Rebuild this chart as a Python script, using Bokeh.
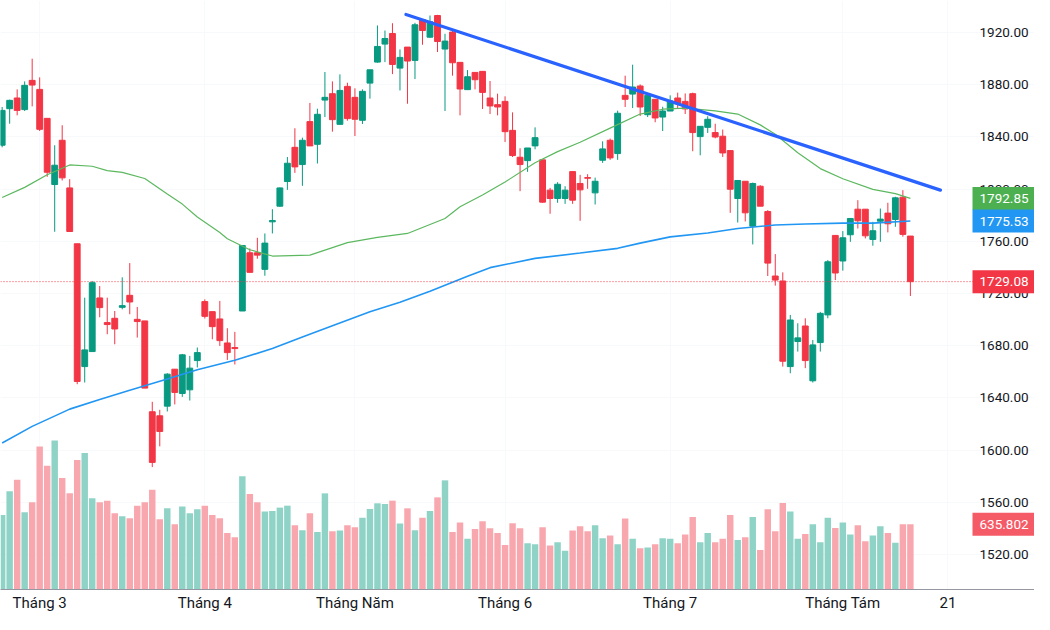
from bokeh.plotting import figure
from bokeh.models import (Range1d, FixedTicker, ColumnDataSource, Span,
                          PrintfTickFormatter)
from bokeh.core.properties import value
from bokeh.embed import file_html
from bokeh.resources import INLINE

# ---------------- data ----------------
opens = [
    1833.6, 1861.6, 1869.8, 1860.9, 1883.3, 1876.4, 1854.2, 1803.5, 1837.4, 1800.9,
    1758.1, 1664.0, 1675.5, 1716.6, 1697.7, 1701.0, 1709.4, 1718.6, 1700.2, 1699.0,
    1629.4, 1626.3, 1633.7, 1662.0, 1643.4, 1646.2, 1668.6, 1713.8, 1706.1, 1700.5,
    1682.1, 1678.6, 1706.6, 1751.2, 1751.2, 1738.5, 1774.9, 1786.9, 1805.8, 1832.0,
    1818.8, 1851.7, 1834.3, 1868.2, 1873.1, 1849.6, 1878.7, 1870.3, 1852.7, 1881.2,
    1897.3, 1911.1, 1919.2, 1892.7, 1908.8, 1898.6, 1929.7, 1916.4, 1933.0, 1907.3,
    1920.3, 1897.1, 1876.2, 1889.4, 1890.2, 1869.8, 1864.7, 1867.2, 1845.0, 1824.4,
    1821.8, 1833.1, 1822.4, 1799.2, 1792.8, 1792.8, 1813.4, 1804.3, 1808.8, 1797.1,
    1822.1, 1837.4, 1827.2, 1871.8, 1872.8, 1879.0, 1857.0, 1868.8, 1855.2, 1859.8,
    1869.8, 1867.2, 1873.1, 1840.2, 1847.3, 1843.3, 1840.5, 1829.5, 1792.8, 1806.0,
    1771.6, 1802.2, 1782.8, 1733.4, 1729.6, 1664.0, 1683.2, 1695.1, 1653.1, 1682.4,
    1703.6, 1764.5, 1744.9, 1765.0, 1784.6, 1784.6, 1761.4, 1775.4, 1781.6, 1776.7,
    1793.8, 1764.0]
highs = [
    1862.9, 1868.5, 1876.4, 1882.5, 1899.9, 1885.6, 1854.2, 1833.6, 1848.9, 1807.6,
    1758.1, 1716.8, 1729.6, 1725.7, 1716.8, 1706.6, 1732.4, 1743.3, 1709.7, 1699.0,
    1637.0, 1630.9, 1658.9, 1662.0, 1673.7, 1672.2, 1678.6, 1715.5, 1706.1, 1714.3,
    1693.4, 1690.6, 1756.8, 1754.5, 1762.7, 1766.0, 1784.6, 1801.2, 1824.6, 1846.6,
    1839.4, 1866.0, 1861.6, 1889.7, 1882.5, 1887.9, 1881.5, 1877.2, 1876.4, 1891.4,
    1925.4, 1921.5, 1927.1, 1907.0, 1908.8, 1927.4, 1929.7, 1933.0, 1933.5, 1919.0,
    1922.3, 1897.1, 1891.2, 1889.4, 1890.2, 1882.8, 1873.1, 1871.1, 1858.8, 1831.3,
    1831.5, 1847.3, 1822.4, 1800.9, 1805.3, 1802.2, 1813.4, 1810.9, 1811.4, 1808.8,
    1836.6, 1838.7, 1860.1, 1886.9, 1895.3, 1880.2, 1871.8, 1868.8, 1863.1, 1871.8,
    1873.9, 1873.3, 1873.9, 1848.1, 1855.8, 1850.1, 1845.6, 1829.5, 1806.6, 1806.0,
    1805.0, 1803.0, 1783.9, 1750.2, 1736.2, 1703.6, 1697.2, 1701.0, 1684.4, 1705.9,
    1745.6, 1764.5, 1767.8, 1777.5, 1791.5, 1784.6, 1774.9, 1785.1, 1789.5, 1794.1,
    1799.2, 1764.0]
lows = [
    1832.0, 1850.1, 1856.5, 1859.8, 1863.4, 1844.5, 1809.4, 1767.3, 1806.6, 1767.5,
    1650.5, 1651.8, 1675.5, 1701.8, 1688.8, 1681.1, 1707.9, 1704.1, 1686.2, 1647.5,
    1587.0, 1602.9, 1629.6, 1635.0, 1640.8, 1638.0, 1663.3, 1700.8, 1684.9, 1679.8,
    1669.1, 1665.6, 1706.6, 1736.2, 1746.6, 1733.6, 1766.0, 1786.5, 1799.4, 1812.4,
    1802.5, 1833.1, 1819.6, 1855.2, 1844.0, 1849.6, 1852.4, 1840.7, 1849.9, 1869.3,
    1896.8, 1897.3, 1888.1, 1875.6, 1865.4, 1884.3, 1910.6, 1915.9, 1905.0, 1859.8,
    1886.9, 1856.5, 1876.2, 1876.4, 1861.4, 1857.5, 1856.5, 1836.1, 1824.6, 1798.4,
    1813.2, 1830.5, 1789.5, 1781.1, 1789.5, 1788.7, 1788.7, 1775.7, 1800.2, 1788.2,
    1820.1, 1822.4, 1822.4, 1862.9, 1862.1, 1856.0, 1855.2, 1851.2, 1844.5, 1859.8,
    1861.6, 1857.5, 1829.0, 1825.9, 1843.0, 1838.9, 1824.6, 1781.8, 1774.4, 1775.2,
    1757.6, 1786.9, 1733.4, 1726.0, 1664.0, 1658.9, 1675.5, 1662.8, 1651.8, 1675.5,
    1701.0, 1730.3, 1737.5, 1759.6, 1769.8, 1762.2, 1756.6, 1759.6, 1766.8, 1771.1,
    1763.5, 1718.1]
closes = [
    1860.3, 1868.0, 1860.3, 1879.5, 1879.7, 1845.8, 1812.9, 1818.3, 1808.6, 1767.5,
    1652.6, 1676.8, 1728.3, 1709.2, 1696.2, 1692.8, 1710.7, 1713.5, 1698.5, 1647.5,
    1590.6, 1614.3, 1658.2, 1644.2, 1673.0, 1662.8, 1674.7, 1702.5, 1694.6, 1683.9,
    1674.7, 1677.8, 1756.8, 1736.2, 1749.4, 1758.6, 1775.9, 1800.9, 1819.8, 1817.0,
    1837.4, 1833.1, 1857.3, 1870.3, 1853.2, 1875.6, 1854.0, 1853.5, 1874.9, 1891.4,
    1909.3, 1915.4, 1895.5, 1900.9, 1898.1, 1925.9, 1921.5, 1928.2, 1913.1, 1913.4,
    1896.8, 1876.7, 1886.1, 1883.8, 1874.1, 1863.7, 1862.9, 1844.0, 1825.7, 1818.8,
    1831.5, 1839.4, 1790.0, 1792.8, 1803.7, 1799.2, 1791.5, 1799.4, 1808.3, 1806.0,
    1830.8, 1823.9, 1858.1, 1868.8, 1878.2, 1862.9, 1871.8, 1854.5, 1859.8, 1867.5,
    1865.4, 1861.4, 1843.3, 1848.1, 1853.5, 1839.9, 1827.7, 1799.9, 1806.6, 1781.8,
    1804.3, 1786.9, 1743.3, 1730.3, 1668.1, 1699.7, 1686.0, 1668.6, 1680.6, 1704.8,
    1744.3, 1735.7, 1762.7, 1777.5, 1775.7, 1764.2, 1768.1, 1777.0, 1773.4, 1793.3,
    1765.3, 1729.08]
volumes = [
    727, 958, 1072, 753, 851, 1396, 1208, 1455, 1088, 938,
    1263, 1331, 890, 851, 867, 744, 714, 695, 818, 851,
    974, 685, 792, 636, 809, 744, 783, 818, 727, 695,
    552, 510, 1104, 932, 851, 760, 766, 799, 818, 627,
    578, 744, 562, 938, 568, 575, 627, 607, 701, 786,
    841, 834, 867, 643, 792, 578, 701, 766, 899, 1065,
    562, 653, 494, 591, 666, 597, 552, 435, 646, 597,
    451, 442, 607, 429, 461, 377, 575, 617, 568, 627,
    500, 526, 442, 692, 494, 403, 409, 442, 500, 494,
    451, 536, 708, 461, 552, 461, 494, 727, 484, 510,
    708, 386, 783, 568, 844, 760, 494, 542, 636, 461,
    701, 601, 653, 536, 627, 471, 526, 617, 552, 455,
    636, 635.802]

# moving averages (green = short MA, blue = long MA), read at these bar indices
ma_short_idx = [0, 3, 6, 9, 12, 14, 16, 19, 22, 24, 26, 29, 30, 33, 36, 41, 46, 50, 54, 59,
                61, 64, 67, 71, 74, 77, 81, 85, 88, 91, 95, 98, 101, 103, 106, 109, 112, 116, 119, 121]
ma_short_val = [1793.6, 1801.3, 1811.0, 1818.5, 1817.5, 1814.2, 1812.8, 1808.1, 1796.3, 1788.5,
                1778.6, 1766.7, 1762.0, 1753.5, 1748.7, 1749.4, 1759.0, 1763.0, 1766.0, 1777.5,
                1786.5, 1795.5, 1805.4, 1820.2, 1828.7, 1835.9, 1846.7, 1857.5, 1861.2, 1862.0,
                1860.0, 1857.5, 1849.2, 1842.0, 1827.8, 1815.7, 1807.9, 1799.8, 1796.5, 1792.85]
ma_long_idx = [0, 4, 9, 13, 17, 22, 26, 31, 36, 40, 44, 49, 53, 57, 62, 65, 71, 77, 82, 85,
               89, 94, 98, 103, 107, 112, 116, 121]
ma_long_val = [1605.4, 1618.2, 1631.4, 1638.7, 1645.8, 1654.5, 1661.5, 1668.8, 1677.8, 1686.7,
               1695.3, 1706.0, 1713.3, 1721.8, 1733.2, 1739.8, 1746.9, 1751.0, 1754.6, 1758.6,
               1763.4, 1766.3, 1769.8, 1772.5, 1773.2, 1773.9, 1773.9, 1775.53]

# hand-drawn resistance trend line
trend_idx = [53.8, 125.0]
trend_val = [1933.8, 1799.2]

month_ticks = [5, 27, 47, 67, 89, 112, 126]
month_labels = ["Tháng 3", "Tháng 4", "Tháng Năm", "Tháng 6", "Tháng 7", "Tháng Tám", "21"]
price_ticks = [1520, 1560, 1600, 1640, 1680, 1720, 1760, 1800, 1840, 1880, 1920]

# ---------------- styling ----------------
UP = "#089981"
DOWN = "#F23645"
UP_VOL = "#8fd3c7"
DOWN_VOL = "#f9a7ae"
FONT = "Roboto"
TXT = "#131722"
W, H = 1034, 614
PX = 7.506                            # pixels per bar
X_START = -0.22
X_END = X_START + W / PX              # whole pane incl. price-scale strip
SCALE_PX = 972                        # left edge of the price-scale strip (px)
SCALE_AT = SCALE_PX / PX + X_START
TAG_W, TAG_H = 62, 23
TAG_MID = (SCALE_PX + TAG_W / 2) / PX + X_START

n = len(opens)
idx = list(range(n))
is_up = [c >= o for o, c in zip(opens, closes)]
src = ColumnDataSource(dict(
    x=idx, open=opens, high=highs, low=lows, close=closes, vol=volumes,
    body_top=[max(o, c) for o, c in zip(opens, closes)],
    body_bot=[min(o, c) for o, c in zip(opens, closes)],
    color=[UP if u else DOWN for u in is_up],
    vcolor=[UP_VOL if u else DOWN_VOL for u in is_up],
))

p = figure(width=W, height=H,
           x_range=Range1d(X_START, X_END), y_range=Range1d(1493.2, 1944.5),
           output_backend="svg", toolbar_location=None, y_axis_location="right",
           min_border_left=0, min_border_top=0, min_border_right=0, min_border_bottom=24,
           background_fill_color="white", border_fill_color="white", outline_line_color=None)
p.extra_y_ranges = {"vol": Range1d(0, 5747)}

# volume
p.vbar(x="x", top="vol", bottom=0, width=0.86, fill_color="vcolor", line_color=None,
       y_range_name="vol", source=src)
# candles
p.segment(x0="x", y0="low", x1="x", y1="high", line_color="color", line_width=1, source=src)
p.vbar(x="x", top="body_top", bottom="body_bot", width=0.78, fill_color="color",
       line_color="color", line_width=1, source=src)

# moving averages and trend line
p.line(ma_short_idx, ma_short_val, line_color="#5cb85f", line_width=1.2)
p.line(ma_long_idx, ma_long_val, line_color="#2196F3", line_width=1.6)
p.line(trend_idx, trend_val, line_color="#2962FF", line_width=3.2, line_cap="round")

# last price line
p.add_layout(Span(location=closes[-1], dimension="width", line_color=DOWN,
                  line_dash="1 2", line_width=1))

# time axis
xa = p.xaxis[0]
xa.ticker = FixedTicker(ticks=month_ticks)
xa.major_label_overrides = {t: l for t, l in zip(month_ticks, month_labels)}
xa.major_tick_line_color = None
xa.major_tick_out = 0
xa.major_tick_in = 0
xa.minor_tick_line_color = None
xa.axis_line_color = "#9598A1"
xa.major_label_text_font = FONT
xa.major_label_text_font_size = "15px"
xa.major_label_text_color = TXT
xa.major_label_standoff = 4

# price scale (drawn at the left edge of the price-scale strip)
ya = p.yaxis[0]
ya.fixed_location = SCALE_AT
ya.ticker = FixedTicker(ticks=price_ticks)
ya.formatter = PrintfTickFormatter(format="%.2f")
ya.axis_line_color = None
ya.major_tick_line_color = None
ya.major_tick_out = 0
ya.major_tick_in = 0
ya.minor_tick_line_color = None
ya.major_label_text_font = FONT
ya.major_label_text_font_size = "13.5px"
ya.major_label_text_color = TXT
ya.major_label_standoff = 7

p.xgrid.grid_line_color = "#f8f9fa"
p.ygrid.grid_line_color = "#f8f9fa"

# value tags on the price scale (drawn above the scale labels)
tag_vals = [ma_short_val[-1], ma_long_val[-1], closes[-1]]
tag_cols = ["#4CAF50", "#2196F3", DOWN]
tag_src = ColumnDataSource(dict(x=[TAG_MID] * 3, xt=[SCALE_AT] * 3, y=tag_vals,
                                c=tag_cols, t=["%.2f" % v for v in tag_vals]))
p.rect(x="x", y="y", width=TAG_W, height=TAG_H, width_units="screen", height_units="screen",
       fill_color="c", line_color=None, source=tag_src, level="overlay")
p.text(x="xt", y="y", text="t", x_offset=7, text_baseline="middle", text_align="left",
       text_color="white", text_font=value(FONT), text_font_size="13.5px",
       source=tag_src, level="overlay")

vtag_src = ColumnDataSource(dict(x=[TAG_MID], xt=[SCALE_AT], y=[volumes[-1]],
                                 t=["%.3f" % volumes[-1]]))
p.rect(x="x", y="y", width=TAG_W, height=TAG_H, width_units="screen", height_units="screen",
       fill_color="#F55A67", line_color=None, source=vtag_src, y_range_name="vol",
       level="overlay")
p.text(x="xt", y="y", text="t", x_offset=7, text_baseline="middle", text_align="left",
       text_color="white", text_font=value(FONT), text_font_size="13.5px",
       source=vtag_src, y_range_name="vol", level="overlay")

open("out.html", "w").write(file_html(p, INLINE))
